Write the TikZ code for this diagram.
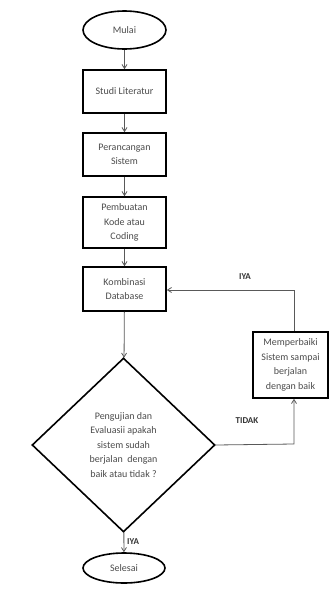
\documentclass[tikz,border=0pt]{standalone}
\usepackage{fontspec}
\setmainfont{Carlito}
\usetikzlibrary{shapes.geometric,arrows.meta,calc}
\tikzset{
  base/.style={draw=black, line width=1.6pt, fill=white, text=black!70,
    font=\fontsize{10}{14.5}\selectfont, align=center, inner sep=1pt},
  term/.style={base, ellipse, minimum width=83pt, minimum height=38pt},
  proc/.style={base, rectangle, minimum width=83pt},
  decide/.style={base, diamond, minimum width=183pt, minimum height=174pt, inner sep=0pt},
  conn/.style={draw=black!65, line width=0.8pt, -{Straight Barb[length=4pt,width=5pt]}},
  lbl/.style={font=\fontsize{9}{11}\selectfont\bfseries, text=black!80, inner sep=0pt}
}
\begin{document}
\begin{tikzpicture}[x=1pt,y=-1pt]
\useasboundingbox (0,0) rectangle (329,592);
\node[term] (mulai) at (124.5,30) {Mulai};
\node[proc, minimum height=43pt] (studi) at (124.5,91.5) {Studi Literatur};
\node[proc, minimum height=43pt] (peran) at (124.5,154.5) {Perancangan\\Sistem};
\node[proc, minimum height=51pt] (kode) at (124.5,222.5) {Pembuatan\\Kode atau\\Coding};
\node[proc, minimum height=44pt] (komb) at (124.5,289) {Kombinasi\\Database};
\node[decide] (uji) at (123.5,445) {Pengujian dan\\Evaluasii apakah\\sistem sudah\\berjalan\ \ dengan\\baik atau tidak ?};
\node[term, minimum width=82pt, minimum height=30pt] (selesai) at (124,568) {Selesai};
\node[proc, minimum width=75pt, minimum height=66pt] (perbaiki) at (290.5,365) {Memperbaiki\\Sistem sampai\\berjalan\\dengan baik};
\coordinate (c1) at (294,290);
\coordinate (c2) at (294,444);
\draw[conn] (mulai) -- (studi);
\draw[conn] (studi) -- (peran);
\draw[conn] (peran) -- (kode);
\draw[conn] (kode) -- (komb);
\draw[conn] (komb) -- (uji);
\draw[conn] (uji) -- (selesai);
\draw[conn] (uji.east) -- (c2) -- (perbaiki.south -| c2);
\draw[conn] (perbaiki.north -| c1) -- (c1) -- (komb.east |- c1);
\node[lbl] (iya1) at (245,277) {IYA};
\node[lbl] (tidak) at (247,421) {TIDAK};
\node[lbl, anchor=west] (iya2) at (127,542) {IYA};
\end{tikzpicture}
\end{document}
